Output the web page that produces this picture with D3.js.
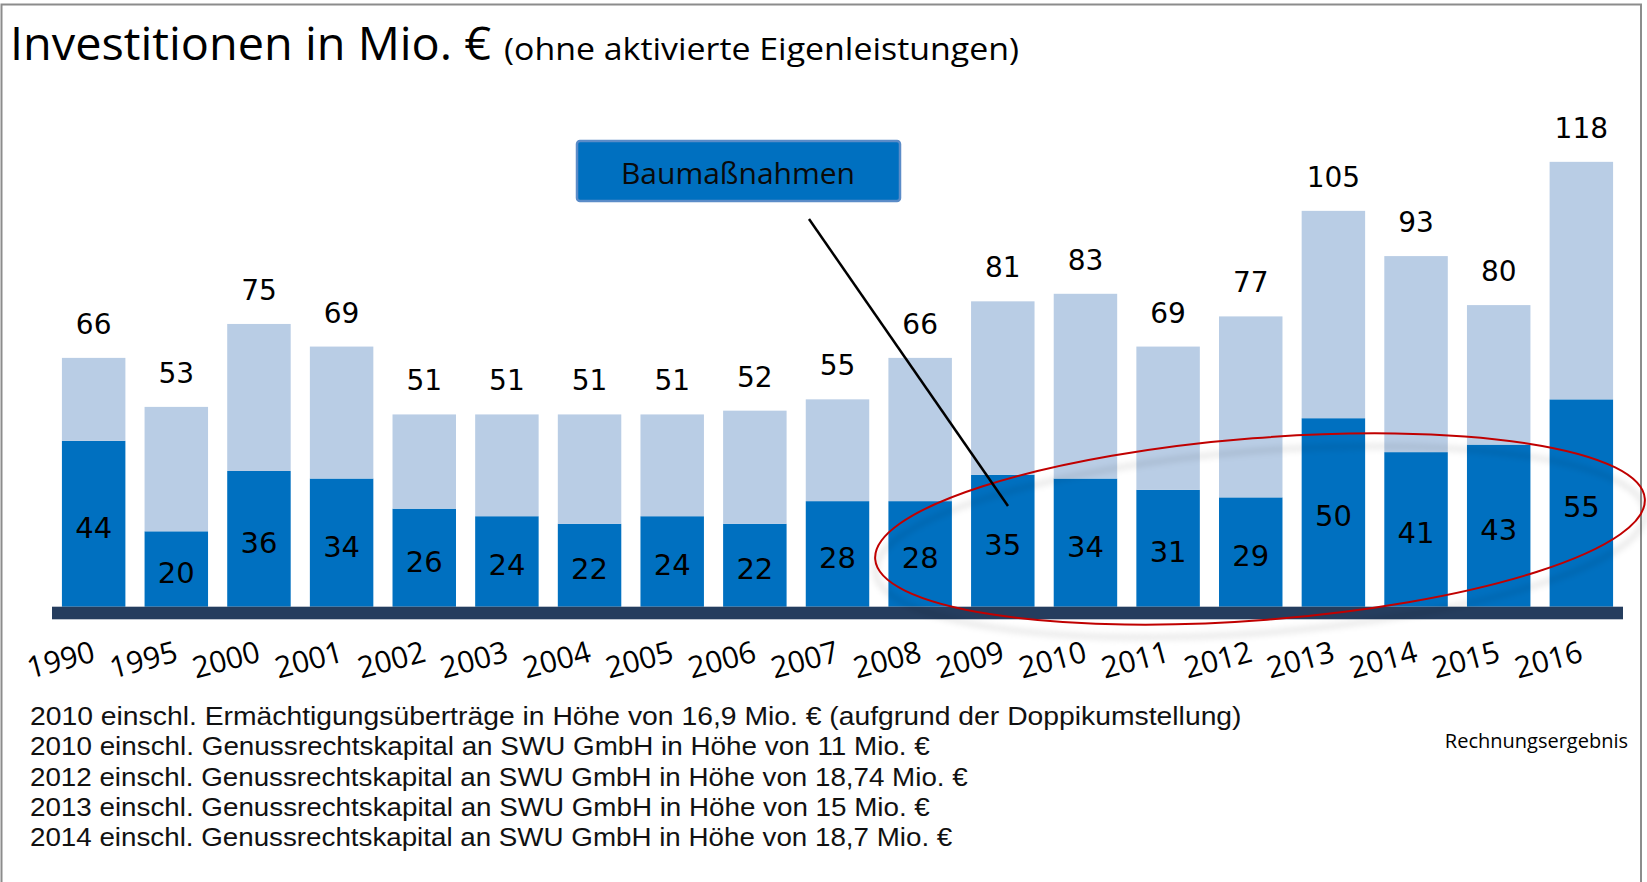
<!DOCTYPE html>
<html>
<head>
<meta charset="utf-8">
<script src="https://cdn.jsdelivr.net/npm/d3@7"></script>
<style>
  html, body { margin: 0; padding: 0; background: #fff; }
  svg { display: block; font-family: "Open Sans", "Noto Sans", sans-serif; }
</style>
</head>
<body>
<svg id="chart" width="1647" height="882"></svg>
<script>
// ---- Data ----
const years = ["1990","1995","2000","2001","2002","2003","2004","2005","2006","2007","2008","2009","2010","2011","2012","2013","2014","2015","2016"];
const totals = [66,53,75,69,51,51,51,51,52,55,66,81,83,69,77,105,93,80,118];
const baumassnahmen = [44,20,36,34,26,24,22,24,22,28,28,35,34,31,29,50,41,43,55];
const titleMain = "Investitionen in Mio. €";
const titleSub = "(ohne aktivierte Eigenleistungen)";
const annotationLabel = "Baumaßnahmen";
const sourceLabel = "Rechnungsergebnis";
const footnotes = [
  "2010 einschl. Ermächtigungsüberträge in Höhe von 16,9 Mio. €  (aufgrund der Doppikumstellung)",
  "2010 einschl. Genussrechtskapital an SWU GmbH in Höhe von 11 Mio. €",
  "2012 einschl. Genussrechtskapital an SWU GmbH in Höhe von 18,74 Mio. €",
  "2013 einschl. Genussrechtskapital an SWU GmbH in Höhe von 15 Mio. €",
  "2014 einschl. Genussrechtskapital an SWU GmbH in Höhe von 18,7 Mio. €"
];

const rows = years.map((y, i) => ({ year: y, total: totals[i], bau: baumassnahmen[i], rest: totals[i] - baumassnahmen[i] }));

// ---- Layout ----
const svg = d3.select("#chart");
const COL_LIGHT = "#b9cde5", COL_DARK = "#0070c0", COL_AXIS = "#253d5e";
const NUM_FONT = "'DejaVu Sans', Verdana, sans-serif";

// frame
svg.append("path")
  .attr("d", "M1.5,882 V4.5 H1641 V882")
  .attr("fill", "none").attr("stroke", "#8c8c8c").attr("stroke-width", 2);

const x = d3.scaleBand().domain(years).range([52, 1623]).paddingInner(0.232).paddingOuter(0.12);
const y = d3.scaleLinear().domain([0, 118]).range([606.7, 606.7 - 118 * 3.77]);

// title
svg.append("text").attr("x", 10).attr("y", 60).attr("fill", "#000")
  .attr("font-size", 46).attr("textLength", 481).attr("lengthAdjust", "spacingAndGlyphs")
  .text(titleMain);
svg.append("text").attr("x", 504).attr("y", 60).attr("fill", "#000")
  .attr("font-size", 31).attr("textLength", 515).attr("lengthAdjust", "spacingAndGlyphs")
  .text(titleSub);

// stacked bars
const stack = d3.stack().keys(["bau", "rest"])(rows);
const colors = { bau: COL_DARK, rest: COL_LIGHT };
svg.append("g").selectAll("g").data(stack).join("g")
  .attr("fill", d => colors[d.key])
  .selectAll("rect").data(d => d).join("rect")
  .attr("x", d => x(d.data.year))
  .attr("width", x.bandwidth())
  .attr("y", d => y(d[1]))
  .attr("height", d => y(d[0]) - y(d[1]));

// baseline axis bar
const xAxis = svg.append("g").attr("transform", `translate(0,${y(0)})`)
  .call(d3.axisBottom(x).tickSize(0).tickFormat(""));
xAxis.select(".domain").remove();
xAxis.append("rect").attr("x", x.range()[0]).attr("y", 0)
  .attr("width", x.range()[1] - x.range()[0]).attr("height", 12.6)
  .attr("fill", COL_AXIS);

// tick labels (rotated)
svg.append("g").selectAll("text").data(years).join("text")
  .attr("transform", d => `translate(${x(d) + x.bandwidth() / 2 + 3},661) rotate(-15)`)
  .attr("text-anchor", "end")
  .attr("font-size", 30)
  .attr("fill", "#000")
  .text(d => d);

// total labels
svg.append("g").selectAll("text").data(rows).join("text")
  .attr("x", d => x(d.year) + x.bandwidth() / 2)
  .attr("y", d => y(d.total) - 24)
  .attr("text-anchor", "middle").attr("font-size", 28).attr("font-family", NUM_FONT).attr("fill", "#000")
  .text(d => d.total);

// inner labels
svg.append("g").selectAll("text").data(rows).join("text")
  .attr("x", d => x(d.year) + x.bandwidth() / 2)
  .attr("y", d => (y(0) + y(d.bau)) / 2 + 14)
  .attr("text-anchor", "middle").attr("font-size", 29).attr("font-family", NUM_FONT).attr("fill", "#000")
  .text(d => d.bau);

// red ellipse with soft shadow
const defs = svg.append("defs");
defs.append("filter").attr("id", "blur").attr("x", "-10%").attr("y", "-30%").attr("width", "120%").attr("height", "160%")
  .append("feGaussianBlur").attr("stdDeviation", 3);
svg.append("ellipse")
  .attr("cx", 1258).attr("cy", 536).attr("rx", 386).attr("ry", 91)
  .attr("transform", "rotate(-4.5,1258,536) translate(2,6)")
  .attr("fill", "none").attr("stroke", "#000").attr("stroke-opacity", 0.12).attr("stroke-width", 4)
  .attr("filter", "url(#blur)");
svg.append("ellipse")
  .attr("cx", 1260).attr("cy", 529).attr("rx", 386).attr("ry", 91)
  .attr("transform", "rotate(-4.5,1260,529)")
  .attr("fill", "none").attr("stroke", "#c00000").attr("stroke-width", 2);

// annotation box + connector
svg.append("rect").attr("x", 577).attr("y", 141).attr("width", 323).attr("height", 60).attr("rx", 3)
  .attr("fill", COL_DARK).attr("stroke", "#5b8cc8").attr("stroke-width", 2.5);
svg.append("text").attr("x", 738).attr("y", 184).attr("text-anchor", "middle")
  .attr("font-size", 30).attr("fill", "#0a0a0a").text(annotationLabel);
svg.append("line").attr("x1", 809).attr("y1", 219).attr("x2", 1008).attr("y2", 506)
  .attr("stroke", "#000").attr("stroke-width", 2.5);

// footnotes: measured at the reference width, drawn in a compact-line-box font
const fn = svg.append("g").selectAll("text").data(footnotes).join("text")
  .attr("x", 30).attr("y", (d, i) => 725 + i * 30.3)
  .attr("font-size", 27).attr("fill", "#111")
  .text(d => d);
fn.each(function () {
  const len = this.getComputedTextLength();
  d3.select(this)
    .attr("font-family", "'Liberation Sans', Arial, sans-serif")
    .attr("font-size", 26)
    .attr("textLength", len)
    .attr("lengthAdjust", "spacingAndGlyphs");
});

// source
svg.append("text").attr("x", 1628).attr("y", 748).attr("text-anchor", "end")
  .attr("font-size", 20).attr("fill", "#000").text(sourceLabel);
</script>
</body>
</html>
